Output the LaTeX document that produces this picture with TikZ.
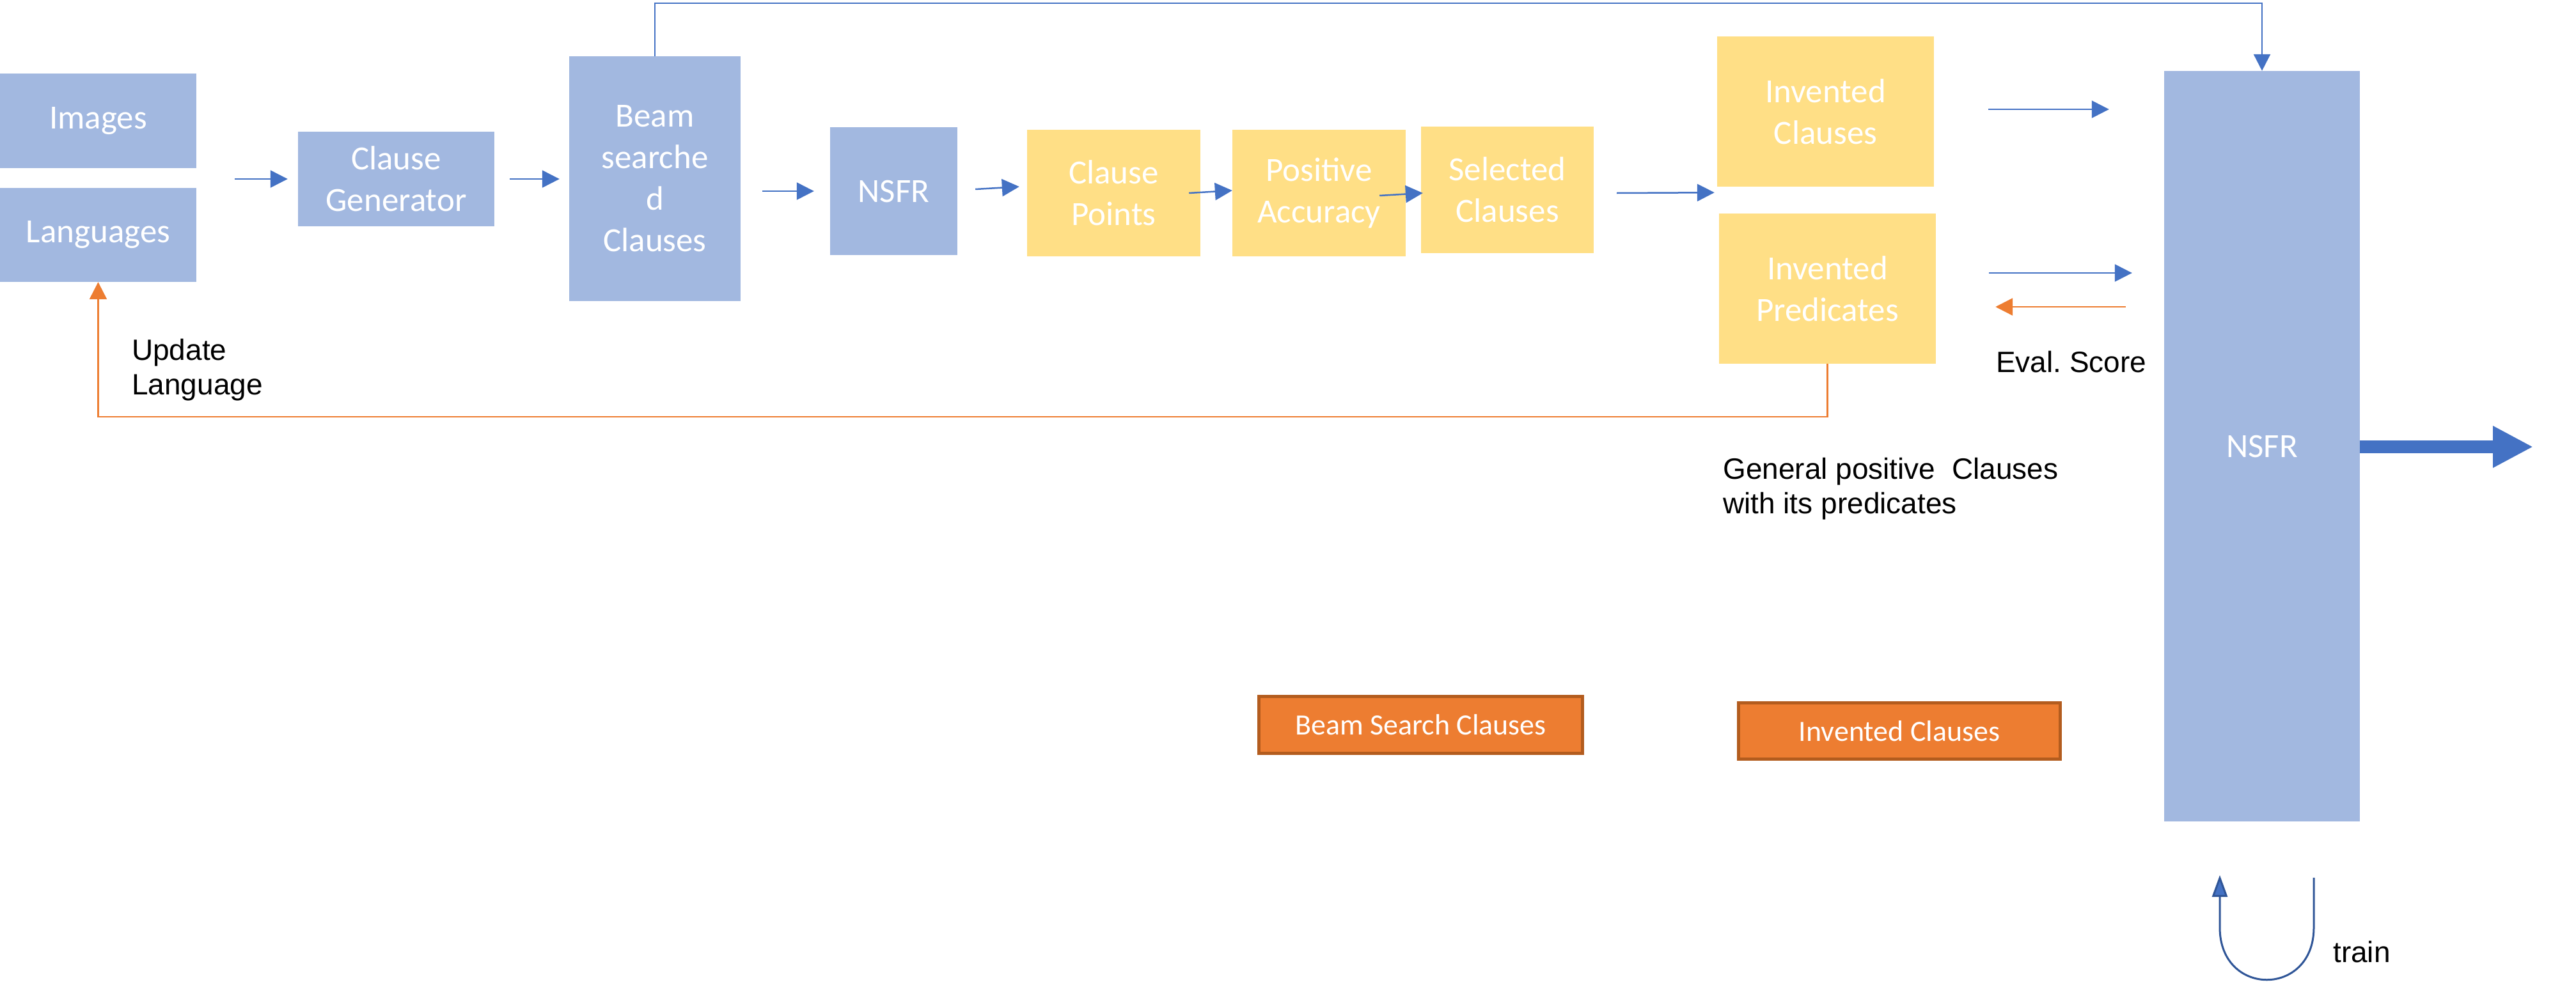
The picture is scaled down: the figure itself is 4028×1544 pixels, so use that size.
\documentclass[tikz,border=0pt]{standalone}
\usepackage{fontspec}
\setmainfont{Liberation Sans}
\newfontfamily\carlito{Carlito}
\usetikzlibrary{arrows.meta,calc}
\definecolor{boxblue}{HTML}{A2B8E0}
\definecolor{boxyellow}{HTML}{FFDF86}
\definecolor{arrblue}{HTML}{4472C4}
\definecolor{arrorange}{HTML}{ED7D31}
\definecolor{orangedark}{HTML}{B35C1E}
\definecolor{trainblue}{HTML}{2F5597}
\frenchspacing
\begin{document}
\begin{tikzpicture}[x=1pt,y=-1pt,
  blk/.style={rectangle, inner sep=0pt, text=white, align=center, font=\carlito\fontsize{53}{65}\selectfont},
  bluebox/.style={blk, fill=boxblue},
  yellowbox/.style={blk, fill=boxyellow},
  orangebox/.style={blk, fill=arrorange, draw=orangedark, line width=5pt, font=\carlito\fontsize{46}{56}\selectfont},
  lbl/.style={inner sep=0pt, text=black, align=left, font=\fontsize{46}{54}\selectfont},
  conn/.style={draw=arrblue, line width=2.5pt, -{Triangle[length=27pt,width=27pt]}, arrblue},
  fb/.style={draw=arrorange, line width=2.5pt, -{Triangle[length=27pt,width=27pt]}, arrorange},
]
\useasboundingbox (0,0) rectangle (4028,1544);

% boxes
\node[bluebox, minimum width=307pt, minimum height=147pt] (images) at (153.5,189) {Images};
\node[bluebox, minimum width=307pt, minimum height=147pt] (languages) at (153.5,367.5) {Languages};
\node[bluebox, minimum width=307pt, minimum height=148pt] (cg) at (619.5,280) {Clause\\Generator};
\node[bluebox, minimum width=268pt, minimum height=383pt] (bsc) at (1024,279.5) {Beam\\searche\\d\\Clauses};
\node[bluebox, minimum width=199pt, minimum height=200pt] (nsfr1) at (1397.5,299) {NSFR};
\node[yellowbox, minimum width=271pt, minimum height=198pt] (cp) at (1741.5,302) {Clause\\Points};
\node[yellowbox, minimum width=271pt, minimum height=198pt] (pa) at (2062.5,302) {Positive\\Accuracy};
\node[yellowbox, minimum width=270pt, minimum height=198pt] (sc) at (2357,297) {Selected\\Clauses};
\node[yellowbox, minimum width=339pt, minimum height=235pt] (ic) at (2854.5,174.5) {Invented\\Clauses};
\node[yellowbox, minimum width=339pt, minimum height=235pt] (ip) at (2857.5,451.5) {Invented\\Predicates};
\node[bluebox, minimum width=306pt, minimum height=1174pt] (nsfr2) at (3537,698) {NSFR};
\node[orangebox, minimum width=506pt, minimum height=89pt] (obs) at (2221.5,1134) {Beam Search Clauses};
\node[orangebox, minimum width=503pt, minimum height=88pt] (oic) at (2970,1143.5) {Invented Clauses};

% labels
\node[lbl, anchor=north west] (upd) at (206,530) {Update\\Language};
\node[lbl, anchor=base west] (eval) at (3121,582) {Eval. Score};
\node[lbl, anchor=north west] (gen) at (2694,716) {General positive\ \ Clauses\\with its predicates};
\node[lbl, anchor=base west] (train) at (3648,1505) {train};

% main chain connectors
\draw[conn, shorten <=60pt, shorten >=16pt] (images.east |- cg.west) -- (cg.west);
\draw[conn, shorten <=24pt, shorten >=15pt] (cg.east) -- (bsc.west |- cg.east);
\draw[conn, shorten <=34pt, shorten >=25pt] (bsc.east |- nsfr1.west) -- (nsfr1.west);
\draw[conn] ($(nsfr1.east)+(28,-3)$) -- ($(cp.west)+(-12,-10)$);
\draw[conn] ($(cp.east)+(-18,0)$) -- ($(pa.west)+(0,-4)$);
\draw[conn] ($(pa.east)+(-41,4)$) -- ($(sc.west)+(3,5)$);
\draw[conn] ($(sc.east)+(36,5)$) -- ($(ic.south west)+(-4,9)$);
\draw[conn] ($(ic.east)+(85,-3.5)$) -- ($(nsfr2.west |- ic.east)+(-86,-3.5)$);
\draw[conn] ($(ip.east)+(83,-24.5)$) -- ($(nsfr2.west |- ip.east)+(-50,-24.5)$);
\draw[fb] ($(nsfr2.west |- ip.east)+(-60,28.5)$) -- ($(ip.east)+(93,28.5)$);

% top connector
\draw[conn, -{Triangle[length=26pt,width=26pt]}] (bsc.north) -- ++(0,-83) -| (nsfr2.north);

% feedback
\draw[fb] (ip.south) -- ++(0,83) -| (languages.south);

% thick output arrow
\coordinate (outend) at (3961,699);
\draw[arrblue, line width=20pt, -{Triangle[length=63pt,width=61pt]}] (nsfr2.east |- outend) -- (outend);

% train loop
\coordinate (trR) at (3618,1373);
\coordinate (trL) at (3471,1369);
\draw[trainblue, line width=3pt, -{Triangle[length=34pt,width=24pt,fill=arrblue]}]
  (trR) -- (3618,1451) .. controls (3618,1560) and (3471,1560) .. (3471,1451) -- (trL);
\end{tikzpicture}
\end{document}
